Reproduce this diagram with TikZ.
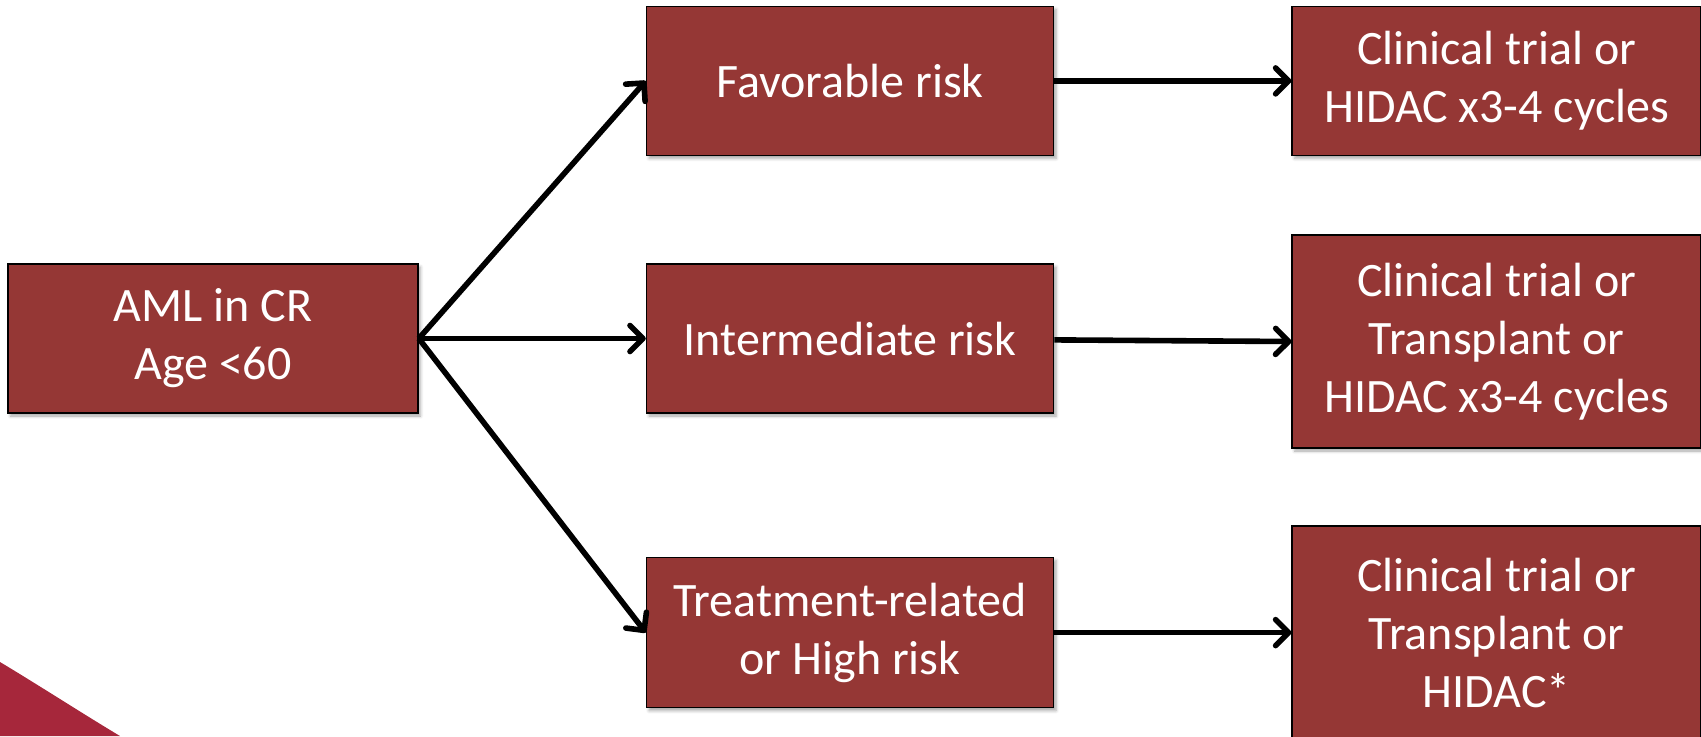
\documentclass[tikz,border=0pt]{standalone}
\usepackage{fontspec}
\setmainfont{Carlito}
\usetikzlibrary{arrows.meta, positioning, shadows.blur}
\definecolor{boxred}{RGB}{149,55,53}
\definecolor{slidered}{RGB}{166,39,59}

\begin{document}
\begin{tikzpicture}[
    every node/.style={
        draw=black,
        line width=0.8pt,
        fill=boxred,
        text=white,
        align=center,
        inner sep=0pt,
        minimum width=203.5pt,
        minimum height=74.5pt,
        font=\fontsize{24}{29}\selectfont,
        blur shadow={shadow xshift=1.2pt, shadow yshift=-1.5pt,
          shadow opacity=35, shadow blur radius=1.5pt}
    },
    arrow/.style={-{Straight Barb[length=6.5pt, width=13pt, round]},
      line width=2.8pt},
    node distance=10mm
]
\useasboundingbox (0,0) rectangle (850.5pt,-368pt);

% ------------------------
% Slide corner
% ------------------------
\fill[slidered] (0,-331pt) .. controls (20pt,-343pt) and (40pt,-356pt)
  .. (60pt,-368pt) -- (0,-368pt) -- cycle;

% ------------------------
% Patient group (left)
% ------------------------
\node (aml) at (106.5pt,-169.25pt) [minimum width=205pt]
{AML in CR\\ Age <60};

% ------------------------
% Risk groups (middle)
% ------------------------
\node (inter) [right=113.5pt of aml]
{Intermediate risk};

\node (fav) [above=53.5pt of inter]
{Favorable risk};

\node (treat) [below=71.5pt of inter, minimum height=75pt]
{Treatment-related\\ or High risk};

% ------------------------
% Treatment options (right)
% ------------------------
\node (trial1) [right=118.5pt of fav, minimum width=204.5pt]
{Clinical trial or\\ HIDAC x3-4 cycles};

\node (trial2) [right=118.5pt of inter, yshift=-1.5pt,
  minimum width=204.5pt, minimum height=106.5pt]
{Clinical trial or\\ Transplant or\\ HIDAC x3-4 cycles};

\node (trial3) [right=118.5pt of treat,
  minimum width=204.5pt, minimum height=106.5pt]
{Clinical trial or\\ Transplant or\\ HIDAC*};

% ------------------------
% Arrows
% ------------------------
\draw[arrow] (aml.east) -- (fav.west);
\draw[arrow] (aml.east) -- (inter.west);
\draw[arrow] (aml.east) -- (treat.west);

\draw[arrow] (fav) -- (trial1);
\draw[arrow] (inter) -- (trial2.west);
\draw[arrow] (treat) -- (trial3);

\end{tikzpicture}
\end{document}
